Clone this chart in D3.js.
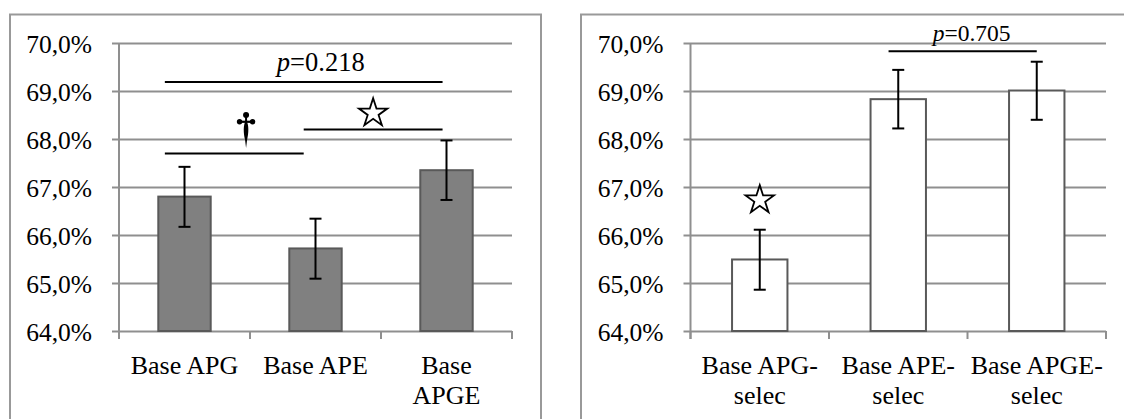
<!DOCTYPE html>
<html>
<head>
<meta charset="utf-8">
<script src="https://cdn.jsdelivr.net/npm/d3@7"></script>
<style>
  body { margin: 0; background: #fff; }
</style>
</head>
<body>
<script>
// data (percent)
const yTicks = [64, 65, 66, 67, 68, 69, 70];

const leftCats = ["Base APG", "Base APE", "Base APGE"];
const leftLabels = [["Base APG"], ["Base APE"], ["Base", "APGE"]];
const leftValues = [66.80, 65.72, 67.35];
const leftLow = [66.17, 65.09, 66.73];
const leftHigh = [67.42, 66.34, 67.97];

const rightCats = ["Base APG-selec", "Base APE-selec", "Base APGE-selec"];
const rightLabels = [["Base APG-", "selec"], ["Base APE-", "selec"], ["Base APGE-", "selec"]];
const rightValues = [65.49, 68.83, 69.01];
const rightLow = [64.86, 68.22, 68.40];
const rightHigh = [66.11, 69.44, 69.61];

// significance marks: x in category index units, y in percent
const leftLines = [
  {x1: -0.15, x2: 1.97, y: 69.19},
  {x1: -0.15, x2: 0.91, y: 67.70},
  {x1: 0.91, x2: 1.97, y: 68.20}
];
const leftMarks = [
  {type: "p", text: "0.218", x: 1.04, y: 69.42},
  {type: "dagger", x: 0.47, y: 68.19},
  {type: "star", x: 1.44, y: 68.58}
];
const rightLines = [
  {x1: 0.93, x2: 2.0, y: 69.83}
];
const rightMarks = [
  {type: "p", text: "0.705", x: 1.53, y: 70.05},
  {type: "star", x: 0.0, y: 66.77}
];

const FONT = "Liberation Serif";
const W = 1124, H = 419;
const svg = d3.select("body").append("svg").attr("width", W).attr("height", H);

function drawPanel(opt) {
  const g = svg.append("g").attr("font-family", FONT);
  // frame
  g.append("rect")
    .attr("x", opt.frame[0]).attr("y", 14.5)
    .attr("width", opt.frame[1] - opt.frame[0]).attr("height", 420)
    .attr("fill", "none").attr("stroke", "#999").attr("stroke-width", 2);

  const y = d3.scaleLinear().domain([64, 70]).range([331, 43]);
  const x = d3.scaleBand().domain(opt.cats).range([opt.x0, opt.x1])
    .paddingInner(0.6).paddingOuter(0.3);
  const xi = d3.scaleLinear().domain([0, 2])
    .range([x(opt.cats[0]) + x.bandwidth() / 2, x(opt.cats[2]) + x.bandwidth() / 2]);

  // gridlines + y labels
  const yAxis = d3.axisLeft(y).tickValues(yTicks)
    .tickSize(-(opt.x1 - opt.x0)).tickSizeOuter(0)
    .tickFormat(d => d3.format(".1f")(d).replace(".", ",") + "%");
  const ya = g.append("g").attr("transform", `translate(${opt.x0},0)`).call(yAxis)
    .attr("font-family", FONT).attr("font-size", 25.5);
  ya.select(".domain").remove();
  ya.selectAll(".tick line").attr("stroke", "#8f8f8f").attr("stroke-width", 2)
    .attr("x1", -7);
  ya.selectAll(".tick text").attr("x", -27).attr("dy", "0.36em")
    .attr("font-family", FONT).attr("fill", "#000");

  // axis lines
  g.append("line").attr("x1", opt.x0).attr("x2", opt.x0).attr("y1", 43).attr("y2", 339)
    .attr("stroke", "#8f8f8f").attr("stroke-width", 2);
  const tickPos = opt.cats.map(c => x(c) - x.step() * x.paddingInner() / 2).concat([opt.x1]);
  g.selectAll(".xt").data(tickPos).enter().append("line")
    .attr("x1", d => d).attr("x2", d => d).attr("y1", 331).attr("y2", 339)
    .attr("stroke", "#8f8f8f").attr("stroke-width", 2);

  // bars
  g.selectAll(".bar").data(opt.values).enter().append("rect")
    .attr("x", (d, i) => x(opt.cats[i]))
    .attr("y", d => y(d))
    .attr("width", x.bandwidth())
    .attr("height", d => y(64) - y(d))
    .attr("fill", opt.fill).attr("stroke", "#595959").attr("stroke-width", 2);

  // error bars
  const eg = g.selectAll(".err").data(opt.values).enter().append("g");
  const cx = i => x(opt.cats[i]) + x.bandwidth() / 2;
  eg.append("line").attr("x1", (d, i) => cx(i)).attr("x2", (d, i) => cx(i))
    .attr("y1", (d, i) => y(opt.low[i])).attr("y2", (d, i) => y(opt.high[i]))
    .attr("stroke", "#000").attr("stroke-width", 2);
  [opt.low, opt.high].forEach(arr => {
    eg.append("line").attr("x1", (d, i) => cx(i) - 6).attr("x2", (d, i) => cx(i) + 6)
      .attr("y1", (d, i) => y(arr[i])).attr("y2", (d, i) => y(arr[i]))
      .attr("stroke", "#000").attr("stroke-width", 2);
  });

  // significance lines
  g.selectAll(".sig").data(opt.lines).enter().append("line")
    .attr("x1", d => xi(d.x1)).attr("x2", d => xi(d.x2))
    .attr("y1", d => y(d.y)).attr("y2", d => y(d.y))
    .attr("stroke", "#000").attr("stroke-width", 2);

  opt.marks.forEach(m => {
    const px = xi(m.x), py = y(m.y);
    if (m.type === "p") {
      const t = g.append("text").attr("x", px).attr("y", py)
        .attr("text-anchor", "middle")
        .attr("font-family", FONT).attr("font-size", opt.pSize);
      t.append("tspan").attr("font-style", "italic").text("p");
      t.append("tspan").text("=" + m.text);
    } else if (m.type === "star") {
      g.append("path").attr("transform", `translate(${px},${py + 2})`)
        .attr("d", d3.symbol(d3.symbolStar, 250)())
        .attr("fill", "#fff").attr("stroke", "#000").attr("stroke-width", 1.8)
        .attr("stroke-linejoin", "miter");
    } else if (m.type === "dagger") {
      // cross with round finials, spindle stem tapering down
      const dg = g.append("g").attr("transform", `translate(${px},${py})`);
      dg.append("path")
        .attr("d", "M0,-10 C3.2,-5 2.6,3 1,10 L0,18 L-1,10 C-2.6,3 -3.2,-5 0,-10 Z")
        .attr("fill", "#000");
      dg.append("rect").attr("x", -6.5).attr("y", -9.2).attr("width", 13).attr("height", 2.2)
        .attr("fill", "#000");
      dg.append("rect").attr("x", -1).attr("y", -15).attr("width", 2).attr("height", 7).attr("fill", "#000");
      [[0, -15, 3], [-6.5, -8.2, 2.7], [6.5, -8.2, 2.7]].forEach(c => {
        dg.append("circle").attr("cx", c[0]).attr("cy", c[1]).attr("r", c[2]).attr("fill", "#000");
      });
    }
  });

  // category labels
  g.selectAll(".cl").data(opt.labels).enter().append("text")
    .attr("text-anchor", "middle")
    .attr("x", (d, i) => cx(i))
    .attr("y", 374)
    .attr("font-family", FONT)
    .attr("font-size", 26)
    .each(function(lines) {
      const t = d3.select(this);
      lines.forEach((l, k) => {
        t.append("tspan").attr("x", t.attr("x")).attr("dy", k === 0 ? 0 : 30).text(l);
      });
    });
}

drawPanel({frame: [10, 541], x0: 119, x1: 512, cats: leftCats, labels: leftLabels,
  values: leftValues, low: leftLow, high: leftHigh, fill: "#808080",
  lines: leftLines, marks: leftMarks, pSize: 26.5});
drawPanel({frame: [581, 1135], x0: 690.5, x1: 1106, cats: rightCats, labels: rightLabels,
  values: rightValues, low: rightLow, high: rightHigh, fill: "#ffffff",
  lines: rightLines, marks: rightMarks, pSize: 23.5});
</script>
</body>
</html>
